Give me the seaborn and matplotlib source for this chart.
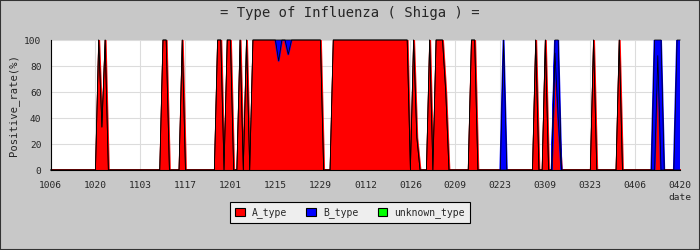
import numpy as np
import pandas as pd
import matplotlib
matplotlib.use("Agg")
import matplotlib.pyplot as plt
import seaborn as sns
from matplotlib.patches import Patch, Rectangle
from matplotlib.ticker import MultipleLocator

# ---- data (daily positive rate, %), 2009-10-06 .. 2010-04-20 ----
start_date = "2009-10-06"
end_date = "2010-04-20"

A_type = [
    0, 0, 0, 0, 0, 0, 0, 0, 0, 0, 0, 0, 0, 0,                          # 1006-
    0, 100, 33, 100, 0, 0, 0, 0, 0, 0, 0, 0, 0, 0,                      # 1020-
    0, 0, 0, 0, 0, 0, 0, 100, 100, 0, 0, 0, 0, 100,                     # 1103-
    0, 0, 0, 0, 0, 0, 0, 0, 0, 0, 100, 100, 0, 100,                     # 1117-
    100, 0, 0, 100, 0, 100, 0, 100, 100, 100, 100, 100, 100, 100,       # 1201-
    100, 84, 100, 100, 89, 100, 100, 100, 100, 100, 100, 100, 100, 100, # 1215-
    100, 0, 0, 0, 100, 100, 100, 100, 100, 100, 100, 100, 100, 100,     # 1229-
    100, 100, 100, 100, 100, 100, 100, 100, 100, 100, 100, 100, 100, 100,  # 0112-
    0, 100, 25, 0, 0, 0, 100, 0, 100, 100, 100, 60, 0, 0,               # 0126-
    0, 0, 0, 0, 0, 100, 100, 0, 0, 0, 0, 0, 0, 0,                       # 0209-
    0, 0, 0, 0, 0, 0, 0, 0, 0, 0, 0, 100, 0, 0,                         # 0223-
    100, 0, 0, 90, 40, 0, 0, 0, 0, 0, 0, 0, 0, 0,                       # 0309-
    0, 100, 0, 0, 0, 0, 0, 0, 0, 100, 0, 0, 0, 0,                       # 0323-
    0, 0, 0, 0, 0, 0, 0, 88, 0, 0, 0, 0, 0, 0,                          # 0406-
    0,                                                                  # 0420
]
B_type = [
    0, 0, 0, 0, 0, 0, 0, 0, 0, 0, 0, 0, 0, 0,
    0, 0, 0, 0, 0, 0, 0, 0, 0, 0, 0, 0, 0, 0,
    0, 0, 0, 0, 0, 0, 0, 0, 0, 0, 0, 0, 0, 0,
    0, 0, 0, 0, 0, 0, 0, 0, 0, 0, 0, 0, 0, 0,
    0, 0, 0, 0, 0, 0, 0, 0, 0, 0, 0, 0, 0, 0,
    0, 16, 0, 0, 11, 0, 0, 0, 0, 0, 0, 0, 0, 0,
    0, 0, 0, 0, 0, 0, 0, 0, 0, 0, 0, 0, 0, 0,
    0, 0, 0, 0, 0, 0, 0, 0, 0, 0, 0, 0, 0, 0,
    0, 0, 0, 0, 0, 0, 0, 0, 0, 0, 0, 0, 0, 0,
    0, 0, 0, 0, 0, 0, 0, 0, 0, 0, 0, 0, 0, 0,
    0, 100, 0, 0, 0, 0, 0, 0, 0, 0, 0, 0, 0, 0,
    0, 0, 0, 10, 60, 0, 0, 0, 0, 0, 0, 0, 0, 0,
    0, 0, 0, 0, 0, 0, 0, 0, 0, 0, 0, 0, 0, 0,
    0, 0, 0, 0, 0, 0, 100, 12, 100, 0, 0, 0, 0, 100,
    100,
]
unknown_type = [0] * 197

tick_labels = ["1006", "1020", "1103", "1117", "1201", "1215", "1229",
               "0112", "0126", "0209", "0223", "0309", "0323", "0406", "0420"]

series_names = ["A_type", "B_type", "unknown_type"]
series_colors = ["#ff0000", "#0000ff", "#00ff00"]

# ---- build table ----
dates = pd.date_range(start_date, end_date, freq="D")
df = pd.DataFrame({"date": dates, "A_type": A_type, "B_type": B_type,
                   "unknown_type": unknown_type})
df["day"] = (df["date"] - df["date"].iloc[0]).dt.days
df["top_A"] = df["A_type"]
df["top_B"] = df["top_A"] + df["B_type"]
df["top_U"] = df["top_B"] + df["unknown_type"]
b_pos = df["B_type"] > 0
b_span = b_pos | b_pos.shift(1, fill_value=False) | b_pos.shift(-1, fill_value=False)

sns.set_style("white")
plt.rcParams["font.family"] = ["DejaVu Sans Mono", "DejaVu Sans"]

fig = plt.figure(figsize=(7, 2.5), dpi=100, facecolor="#c8c8c8")
ax = fig.add_axes([50.5 / 700, 1 - 170 / 250, (680.3 - 50.5) / 700, 130 / 250])
ax.set_facecolor("white")

x = df["day"].values
ax.fill_between(x, 0, df["top_A"], facecolor=series_colors[0], edgecolor=series_colors[0],
                lw=1.4, zorder=2)
ax.fill_between(x, df["top_A"], df["top_B"], where=b_span, facecolor=series_colors[1],
                edgecolor=series_colors[1], lw=1.4, zorder=2.1)
ax.fill_between(x, df["top_B"], df["top_U"], facecolor=series_colors[2], lw=0, zorder=2.2)
for col in ["top_A", "top_B"]:
    sns.lineplot(data=df, x="day", y=col, color="black", lw=0.55, ax=ax,
                 estimator=None, sort=False, zorder=3, clip_on=False)

ax.set_xlim(0, len(dates) - 1)
ax.set_ylim(0, 100)
tick_pos = df["day"].values[::14]
ax.set_xticks(tick_pos)
ax.set_xticklabels(tick_labels)
ax.yaxis.set_major_locator(MultipleLocator(20))
ax.yaxis.set_minor_locator(MultipleLocator(10))

ax.grid(True, which="major", color="#dcdcdc", lw=0.8)
ax.set_axisbelow(True)
for s in ["top", "right"]:
    ax.spines[s].set_visible(False)
for s in ["left", "bottom"]:
    ax.spines[s].set_color("black")
    ax.spines[s].set_linewidth(0.8)
    ax.spines[s].set_zorder(4)

ax.tick_params(axis="x", direction="in", length=4, width=0.8, color="black",
               labelsize=6.8, pad=8)
ax.tick_params(axis="y", which="major", direction="in", length=4, width=0.8,
               color="black", labelsize=6.8, pad=6.5)
ax.tick_params(axis="y", which="minor", direction="in", length=3, width=0.8,
               color="black")
ax.set_xlabel("")
ax.set_ylabel("Positive_rate(%)", fontsize=7.6, labelpad=8)
ax.yaxis.set_label_coords(-0.05, 0.5)

fig.text(0.5, 1 - 13 / 250, "= Type of Influenza ( Shiga ) =", ha="center",
         va="center", fontsize=10)
fig.text(680 / 700, 1 - 197 / 250, "date", ha="center", va="center", fontsize=6.8)

handles = [Patch(facecolor=c, edgecolor="black", lw=0.8) for c in series_colors]
leg = fig.legend(handles, series_names, loc="center", ncol=3,
                 bbox_to_anchor=(350 / 700, 1 - 212.8 / 250), fontsize=7,
                 frameon=True, fancybox=False, edgecolor="black",
                 facecolor="#eeeeee", framealpha=1, handlelength=1.0,
                 handleheight=1.0, handletextpad=0.7, columnspacing=2.0,
                 borderpad=0.5)
leg.get_frame().set_linewidth(0.8)

fig.add_artist(Rectangle((0, 0), 1, 1, transform=fig.transFigure, fill=False,
                         edgecolor="#333333", lw=1.5))

fig.savefig("out.png", dpi=100, facecolor=fig.get_facecolor())
